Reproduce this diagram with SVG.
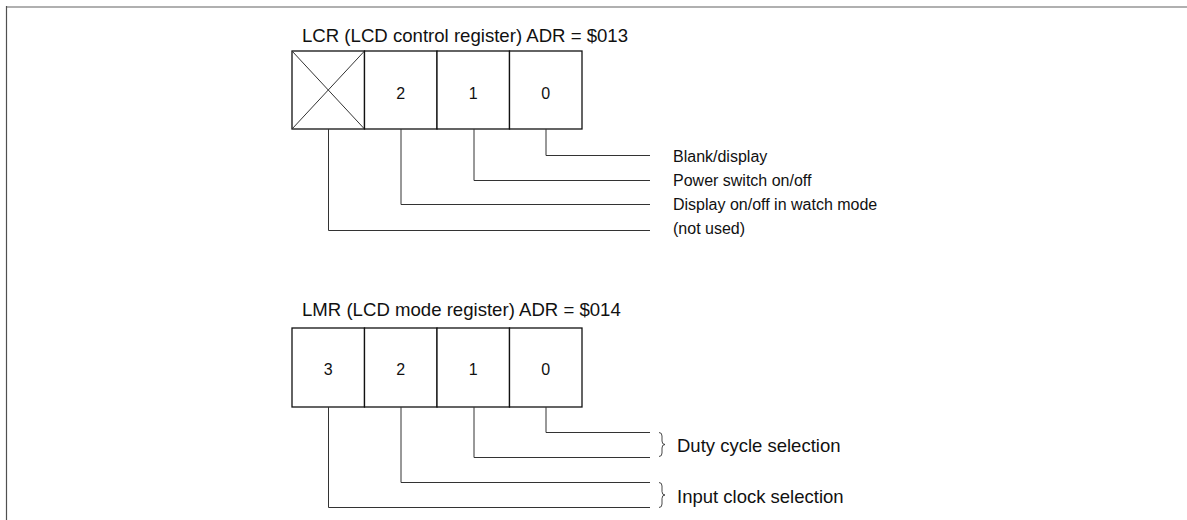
<svg xmlns="http://www.w3.org/2000/svg" width="1187" height="520" viewBox="0 0 1187 520">
<style>
.t{font-family:"Liberation Sans",Arial,sans-serif;fill:#111}
.title{font-size:18.6px}
.lab{font-size:16px}
.lab2{font-size:18.5px}
.dig{font-size:16px;text-anchor:middle}
.cell{fill:#fff;stroke:#111;stroke-width:1.3}
.x{stroke:#333;stroke-width:1;fill:none}
.conn path{fill:none;stroke:#333;stroke-width:1}
.brace{fill:none;stroke:#333;stroke-width:0.9}
</style>
<rect width="1187" height="520" fill="#fff"/>
<line x1="6" y1="7" x2="1187" y2="7" stroke="#b0b0b0" stroke-width="2"/>
<line x1="6.5" y1="6" x2="6.5" y2="520" stroke="#505050" stroke-width="1.2"/>

<g id="lcr">
<text class="t title" x="302" y="42">LCR (LCD control register) ADR = $013</text>
<g id="lcr-b3"><rect class="cell" x="292" y="51" width="72.5" height="78"/><path class="x" d="M292 51L364.5 129M364.5 51L292 129"/></g>
<g id="lcr-b2"><rect class="cell" x="364.5" y="51" width="72.5" height="78"/><text class="t dig" x="400.7" y="99">2</text></g>
<g id="lcr-b1"><rect class="cell" x="437" y="51" width="72.5" height="78"/><text class="t dig" x="473.2" y="99">1</text></g>
<g id="lcr-b0"><rect class="cell" x="509.5" y="51" width="72.5" height="78"/><text class="t dig" x="545.7" y="99">0</text></g>
</g>
<g id="lcr-labels">
<text class="t lab" x="673" y="162">Blank/display</text>
<text class="t lab" x="673" y="186">Power switch on/off</text>
<text class="t lab" x="673" y="210">Display on/off in watch mode</text>
<text class="t lab" x="673" y="234">(not used)</text>
</g>

<g id="lmr">
<text class="t title" x="302" y="316">LMR (LCD mode register) ADR = $014</text>
<g id="lmr-b3"><rect class="cell" x="292" y="328" width="72.5" height="79"/><text class="t dig" x="328.2" y="375">3</text></g>
<g id="lmr-b2"><rect class="cell" x="364.5" y="328" width="72.5" height="79"/><text class="t dig" x="400.7" y="375">2</text></g>
<g id="lmr-b1"><rect class="cell" x="437" y="328" width="72.5" height="79"/><text class="t dig" x="473.2" y="375">1</text></g>
<g id="lmr-b0"><rect class="cell" x="509.5" y="328" width="72.5" height="79"/><text class="t dig" x="545.7" y="375">0</text></g>
</g>
<g id="lmr-labels">
<path class="brace" d="M659 432.5Q662 432.5 662 436V441Q662 444.5 665 444.5Q662 444.5 662 448V453Q662 456.5 659 456.5"/>
<path class="brace" d="M659 482.5Q662 482.5 662 486V491.5Q662 495 665 495Q662 495 662 498.5V504Q662 507.5 659 507.5"/>
<text class="t lab2" x="677" y="452">Duty cycle selection</text>
<text class="t lab2" x="677" y="503">Input clock selection</text>
</g>

<g class="conn" id="connectors">
<path d="M546 129V155.5H650"/>
<path d="M474 129V180.5H650"/>
<path d="M401 129V204.5H650"/>
<path d="M328.5 129V230.5H650"/>
<path d="M546 407V432.5H650"/>
<path d="M474 407V457.5H650"/>
<path d="M401 407V482.5H650"/>
<path d="M328.5 407V507.5H650"/>
</g>
</svg>
